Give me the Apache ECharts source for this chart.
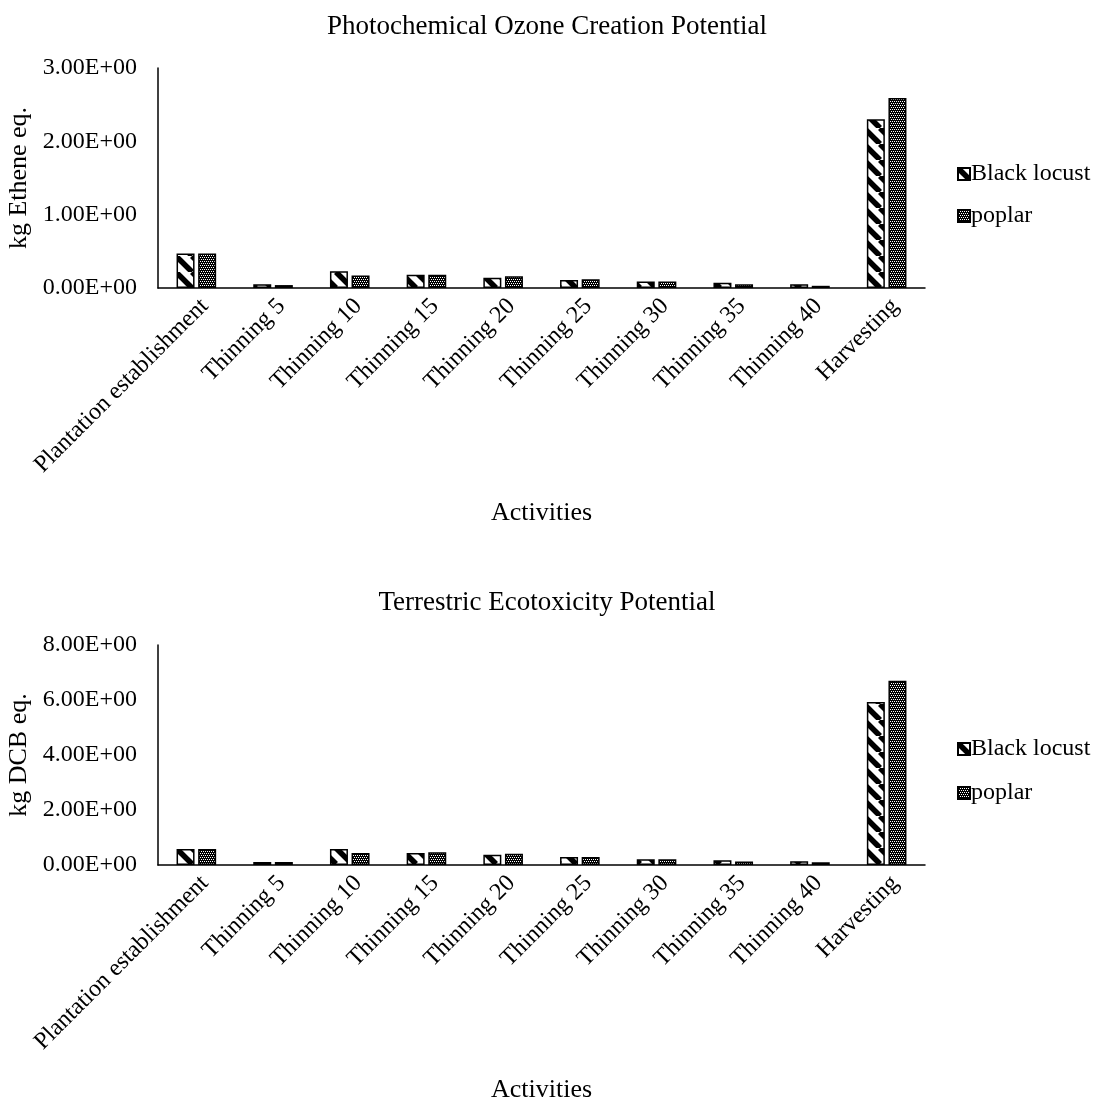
<!DOCTYPE html>
<html>
<head>
<meta charset="utf-8">
<script src="https://cdn.jsdelivr.net/npm/echarts@6/dist/echarts.min.js"></script>
<style>
html,body{margin:0;padding:0;background:#fff;}
#c{width:1094px;height:1100px;}
</style>
</head>
<body>
<div id="c"></div>
<script>
const categories = ['Plantation establishment','Thinning 5','Thinning 10','Thinning 15','Thinning 20','Thinning 25','Thinning 30','Thinning 35','Thinning 40','Harvesting'];
const pocpBlackLocust = [0.47, 0.05, 0.23, 0.18, 0.14, 0.11, 0.09, 0.07, 0.05, 2.30];
const pocpPoplar      = [0.47, 0.04, 0.17, 0.18, 0.16, 0.12, 0.09, 0.05, 0.03, 2.59];
const tepBlackLocust  = [0.58, 0.11, 0.58, 0.44, 0.37, 0.29, 0.21, 0.17, 0.14, 5.93];
const tepPoplar       = [0.58, 0.11, 0.44, 0.46, 0.41, 0.29, 0.21, 0.13, 0.10, 6.70];
const pocpTicks = ['0.00E+00','1.00E+00','2.00E+00','3.00E+00'];
const tepTicks  = ['0.00E+00','2.00E+00','4.00E+00','6.00E+00','8.00E+00'];
const seriesNames = ['Black locust','poplar'];
const titles = ['Photochemical Ozone Creation Potential','Terrestric Ecotoxicity Potential'];
const yNames = ['kg Ethene eq.','kg DCB eq.'];
const xName = 'Activities';

function stripeCanvas(){
  const s = 16, c = document.createElement('canvas');
  c.width = s; c.height = s;
  const g = c.getContext('2d');
  g.fillStyle = '#fff'; g.fillRect(0,0,s,s);
  g.strokeStyle = '#000'; g.lineWidth = 5.5;
  for (const o of [-s, 0, s]) {
    g.beginPath(); g.moveTo(o, 0); g.lineTo(o + s, s); g.stroke();
  }
  return c;
}
function checkCanvas(){
  const s = 4, c = document.createElement('canvas');
  c.width = s; c.height = s;
  const g = c.getContext('2d');
  g.fillStyle = '#000'; g.fillRect(0,0,s,s);
  g.fillStyle = '#fff';
  g.fillRect(0,1,1,1); g.fillRect(2,1,1,1); g.fillRect(1,3,1,1); g.fillRect(3,3,1,1);
  return c;
}
const stripe = {image: stripeCanvas(), repeat: 'repeat'};
const check = {image: checkCanvas(), repeat: 'repeat'};

const FONT = '"Liberation Serif", "Times New Roman", serif';
const tick = {fontFamily: FONT, fontSize: 24, color: '#000'};
const big = {fontFamily: FONT, fontSize: 26, color: '#000', fontWeight: 'normal'};
const titleStyle = {fontFamily: FONT, fontSize: 27, color: '#000', fontWeight: 'normal'};

const grids = [
  {left: 158, width: 767, top: 68, height: 220, outerBoundsMode: 'none', containLabel: false},
  {left: 158, width: 767, top: 645, height: 220, outerBoundsMode: 'none', containLabel: false}
];
function xAxis(i){
  return {
    type: 'category', gridIndex: i, data: categories,
    axisLine: {lineStyle: {color: '#000', width: 1.5}},
    axisTick: {show: false},
    axisLabel: Object.assign({rotate: 45, margin: 6, interval: 0, verticalAlign: 'top'}, tick),
    name: xName, nameLocation: 'middle', nameGap: 212,
    nameTextStyle: big
  };
}
function yAxis(i, max, interval, ticks){
  return {
    type: 'value', gridIndex: i, min: 0, max: max, interval: interval,
    axisLine: {show: true, lineStyle: {color: '#000', width: 1.5}},
    axisTick: {show: false},
    splitLine: {show: false},
    axisLabel: Object.assign({margin: 21, formatter: v => ticks[Math.round(v / interval)]}, tick),
    name: yNames[i], nameLocation: 'middle', nameGap: 118, nameRotate: 90,
    nameTextStyle: big
  };
}
function bar(name, data, i, color){
  return {
    type: 'bar', name: name, data: data, xAxisIndex: i, yAxisIndex: i,
    barWidth: 18, barGap: '20%',
    itemStyle: {color: color, borderColor: '#000', borderWidth: 1.5},
    emphasis: {disabled: true}
  };
}
function legend(top, gap){
  return {orient: 'vertical', left: 952, top: top, itemGap: gap, itemWidth: 12, itemHeight: 12, icon: 'rect',
    textStyle: Object.assign({padding: [0,0,0,-4]}, tick), data: seriesNames.map(n => ({name: n}))};
}
const option = {
  animation: false,
  backgroundColor: '#fff',
  title: [
    {text: titles[0], left: 'center', top: 8, textStyle: titleStyle},
    {text: titles[1], left: 'center', top: 584, textStyle: titleStyle}
  ],
  legend: [legend(157, 18), legend(732, 20)],
  grid: grids,
  xAxis: [xAxis(0), xAxis(1)],
  yAxis: [yAxis(0, 3, 1, pocpTicks), yAxis(1, 8, 2, tepTicks)],
  series: [
    bar(seriesNames[0], pocpBlackLocust, 0, stripe),
    bar(seriesNames[1], pocpPoplar, 0, check),
    bar(seriesNames[0], tepBlackLocust, 1, stripe),
    bar(seriesNames[1], tepPoplar, 1, check)
  ]
};
const chart = echarts.init(document.getElementById('c'), null, {renderer: 'canvas'});
chart.setOption(option);
</script>
</body>
</html>
